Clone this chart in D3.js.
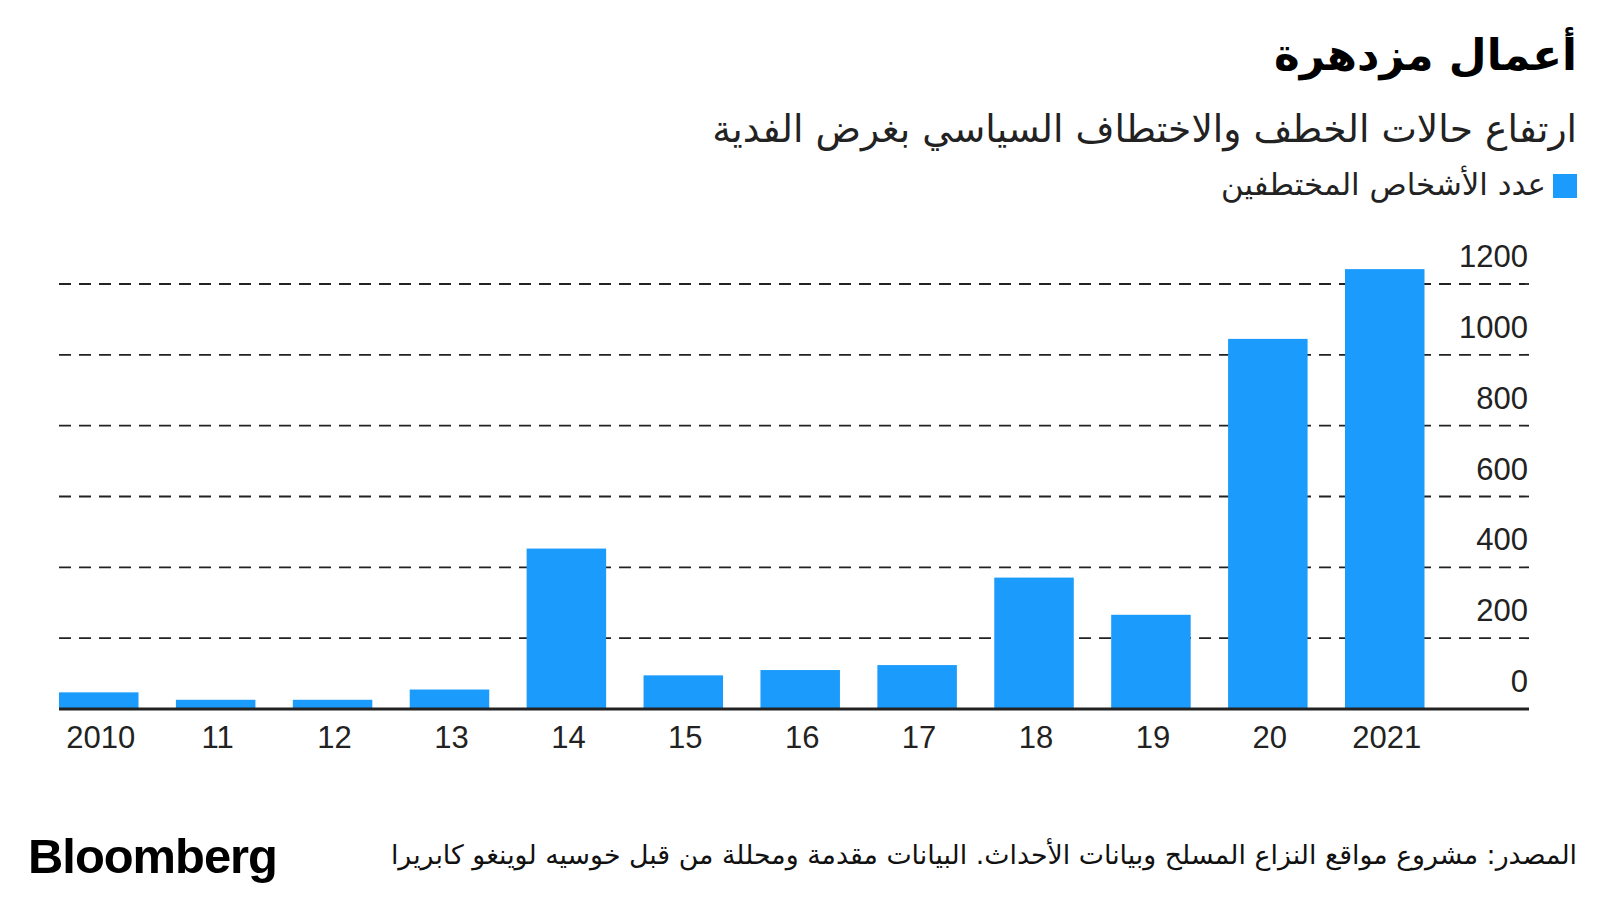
<!DOCTYPE html>
<html>
<head>
<meta charset="utf-8">
<script src="https://cdn.jsdelivr.net/npm/d3@7"></script>
<style>
  html, body { margin: 0; padding: 0; background: #fff; }
  svg { display: block; }
</style>
</head>
<body>
<div id="chart"></div>
<script>
// ---- data ----
const years = ["2010", "11", "12", "13", "14", "15", "16", "17", "18", "19", "20", "2021"];
const kidnapped = [47, 26, 26, 55, 453, 95, 110, 124, 371, 266, 1045, 1242];
const yTicks = [0, 200, 400, 600, 800, 1000, 1200];

const titleText = "أعمال مزدهرة";
const subtitleText = "ارتفاع حالات الخطف والاختطاف السياسي بغرض الفدية";
const legendText = "عدد الأشخاص المختطفين";
const sourceText = "المصدر: مشروع مواقع النزاع المسلح وبيانات الأحداث. البيانات مقدمة ومحللة من قبل خوسيه لوينغو كابريرا";

// ---- layout ----
const W = 1600, H = 900;
const barColor = "#1b9bfc";
const arabicFont = "'DejaVu Sans', 'Noto Sans', sans-serif";
const latinFont = "'Liberation Sans', Arial, sans-serif";

const svg = d3.select("#chart").append("svg")
  .attr("width", W).attr("height", H)
  .attr("viewBox", `0 0 ${W} ${H}`);

const plotLeft = 59, plotRight = 1529, barsRight = 1424.5;
const y = d3.scaleLinear().domain([0, 1200]).range([709, 284]);
const x = d3.scaleBand().domain(years).range([plotLeft, barsRight]).paddingInner(0.32).paddingOuter(0);

// fit text to a target width by adjusting font-size
function fit(sel, targetW) {
  const node = sel.node();
  const fs = parseFloat(sel.attr("font-size"));
  const w = node.getComputedTextLength();
  if (w > 0) sel.attr("font-size", (fs * targetW / w).toFixed(2));
}

// gridlines
svg.append("g").selectAll("line.grid")
  .data(yTicks.filter(d => d > 0))
  .join("line")
  .attr("class", "grid")
  .attr("x1", plotLeft).attr("x2", plotRight)
  .attr("y1", d => y(d)).attr("y2", d => y(d))
  .attr("stroke", "#222")
  .attr("stroke-width", 1.8)
  .attr("stroke-dasharray", "12,8");

// bars
svg.append("g").selectAll("rect")
  .data(years.map((yr, i) => ({ yr, v: kidnapped[i] })))
  .join("rect")
  .attr("x", d => x(d.yr))
  .attr("width", x.bandwidth())
  .attr("y", d => y(d.v))
  .attr("height", d => y(0) - y(d.v))
  .attr("fill", barColor);

// baseline
svg.append("line")
  .attr("x1", plotLeft).attr("x2", plotRight)
  .attr("y1", y(0)).attr("y2", y(0))
  .attr("stroke", "#222").attr("stroke-width", 3);

// y labels
svg.append("g").selectAll("text")
  .data(yTicks)
  .join("text")
  .attr("x", 1528)
  .attr("y", d => y(d) - 17)
  .attr("text-anchor", "end")
  .attr("font-family", latinFont)
  .attr("font-size", 31)
  .attr("fill", "#222")
  .text(d => d);

// x labels
svg.append("g").selectAll("text")
  .data(years)
  .join("text")
  .attr("x", d => x(d) + x.bandwidth() / 2 + 2)
  .attr("y", 748)
  .attr("text-anchor", "middle")
  .attr("font-family", latinFont)
  .attr("font-size", 31)
  .attr("fill", "#222")
  .text(d => d);

// title
const t = svg.append("text")
  .attr("x", 1577).attr("y", 70)
  .attr("text-anchor", "end")
  .attr("font-family", arabicFont)
  .attr("font-weight", "bold")
  .attr("font-size", 48)
  .attr("fill", "#000")
  .text(titleText);
fit(t, 303);

// subtitle
const st = svg.append("text")
  .attr("x", 1577).attr("y", 142)
  .attr("text-anchor", "end")
  .attr("font-family", arabicFont)
  .attr("font-size", 32)
  .attr("fill", "#222")
  .text(subtitleText);
fit(st, 865);

// legend
svg.append("rect")
  .attr("x", 1553).attr("y", 174)
  .attr("width", 24).attr("height", 24)
  .attr("fill", barColor);
const lt = svg.append("text")
  .attr("x", 1546).attr("y", 195)
  .attr("text-anchor", "end")
  .attr("font-family", arabicFont)
  .attr("font-size", 28)
  .attr("fill", "#222")
  .text(legendText);
fit(lt, 325);

// source
const src = svg.append("text")
  .attr("x", 1577).attr("y", 864)
  .attr("text-anchor", "end")
  .attr("font-family", arabicFont)
  .attr("font-size", 24)
  .attr("fill", "#111")
  .text(sourceText);
fit(src, 1186);

// Bloomberg logo text
const logo = svg.append("text")
  .attr("x", 28).attr("y", 873)
  .attr("font-family", latinFont)
  .attr("font-weight", "bold")
  .attr("font-size", 49)
  .attr("letter-spacing", -1)
  .attr("fill", "#000")
  .text("Bloomberg");
fit(logo, 249);
</script>
</body>
</html>
